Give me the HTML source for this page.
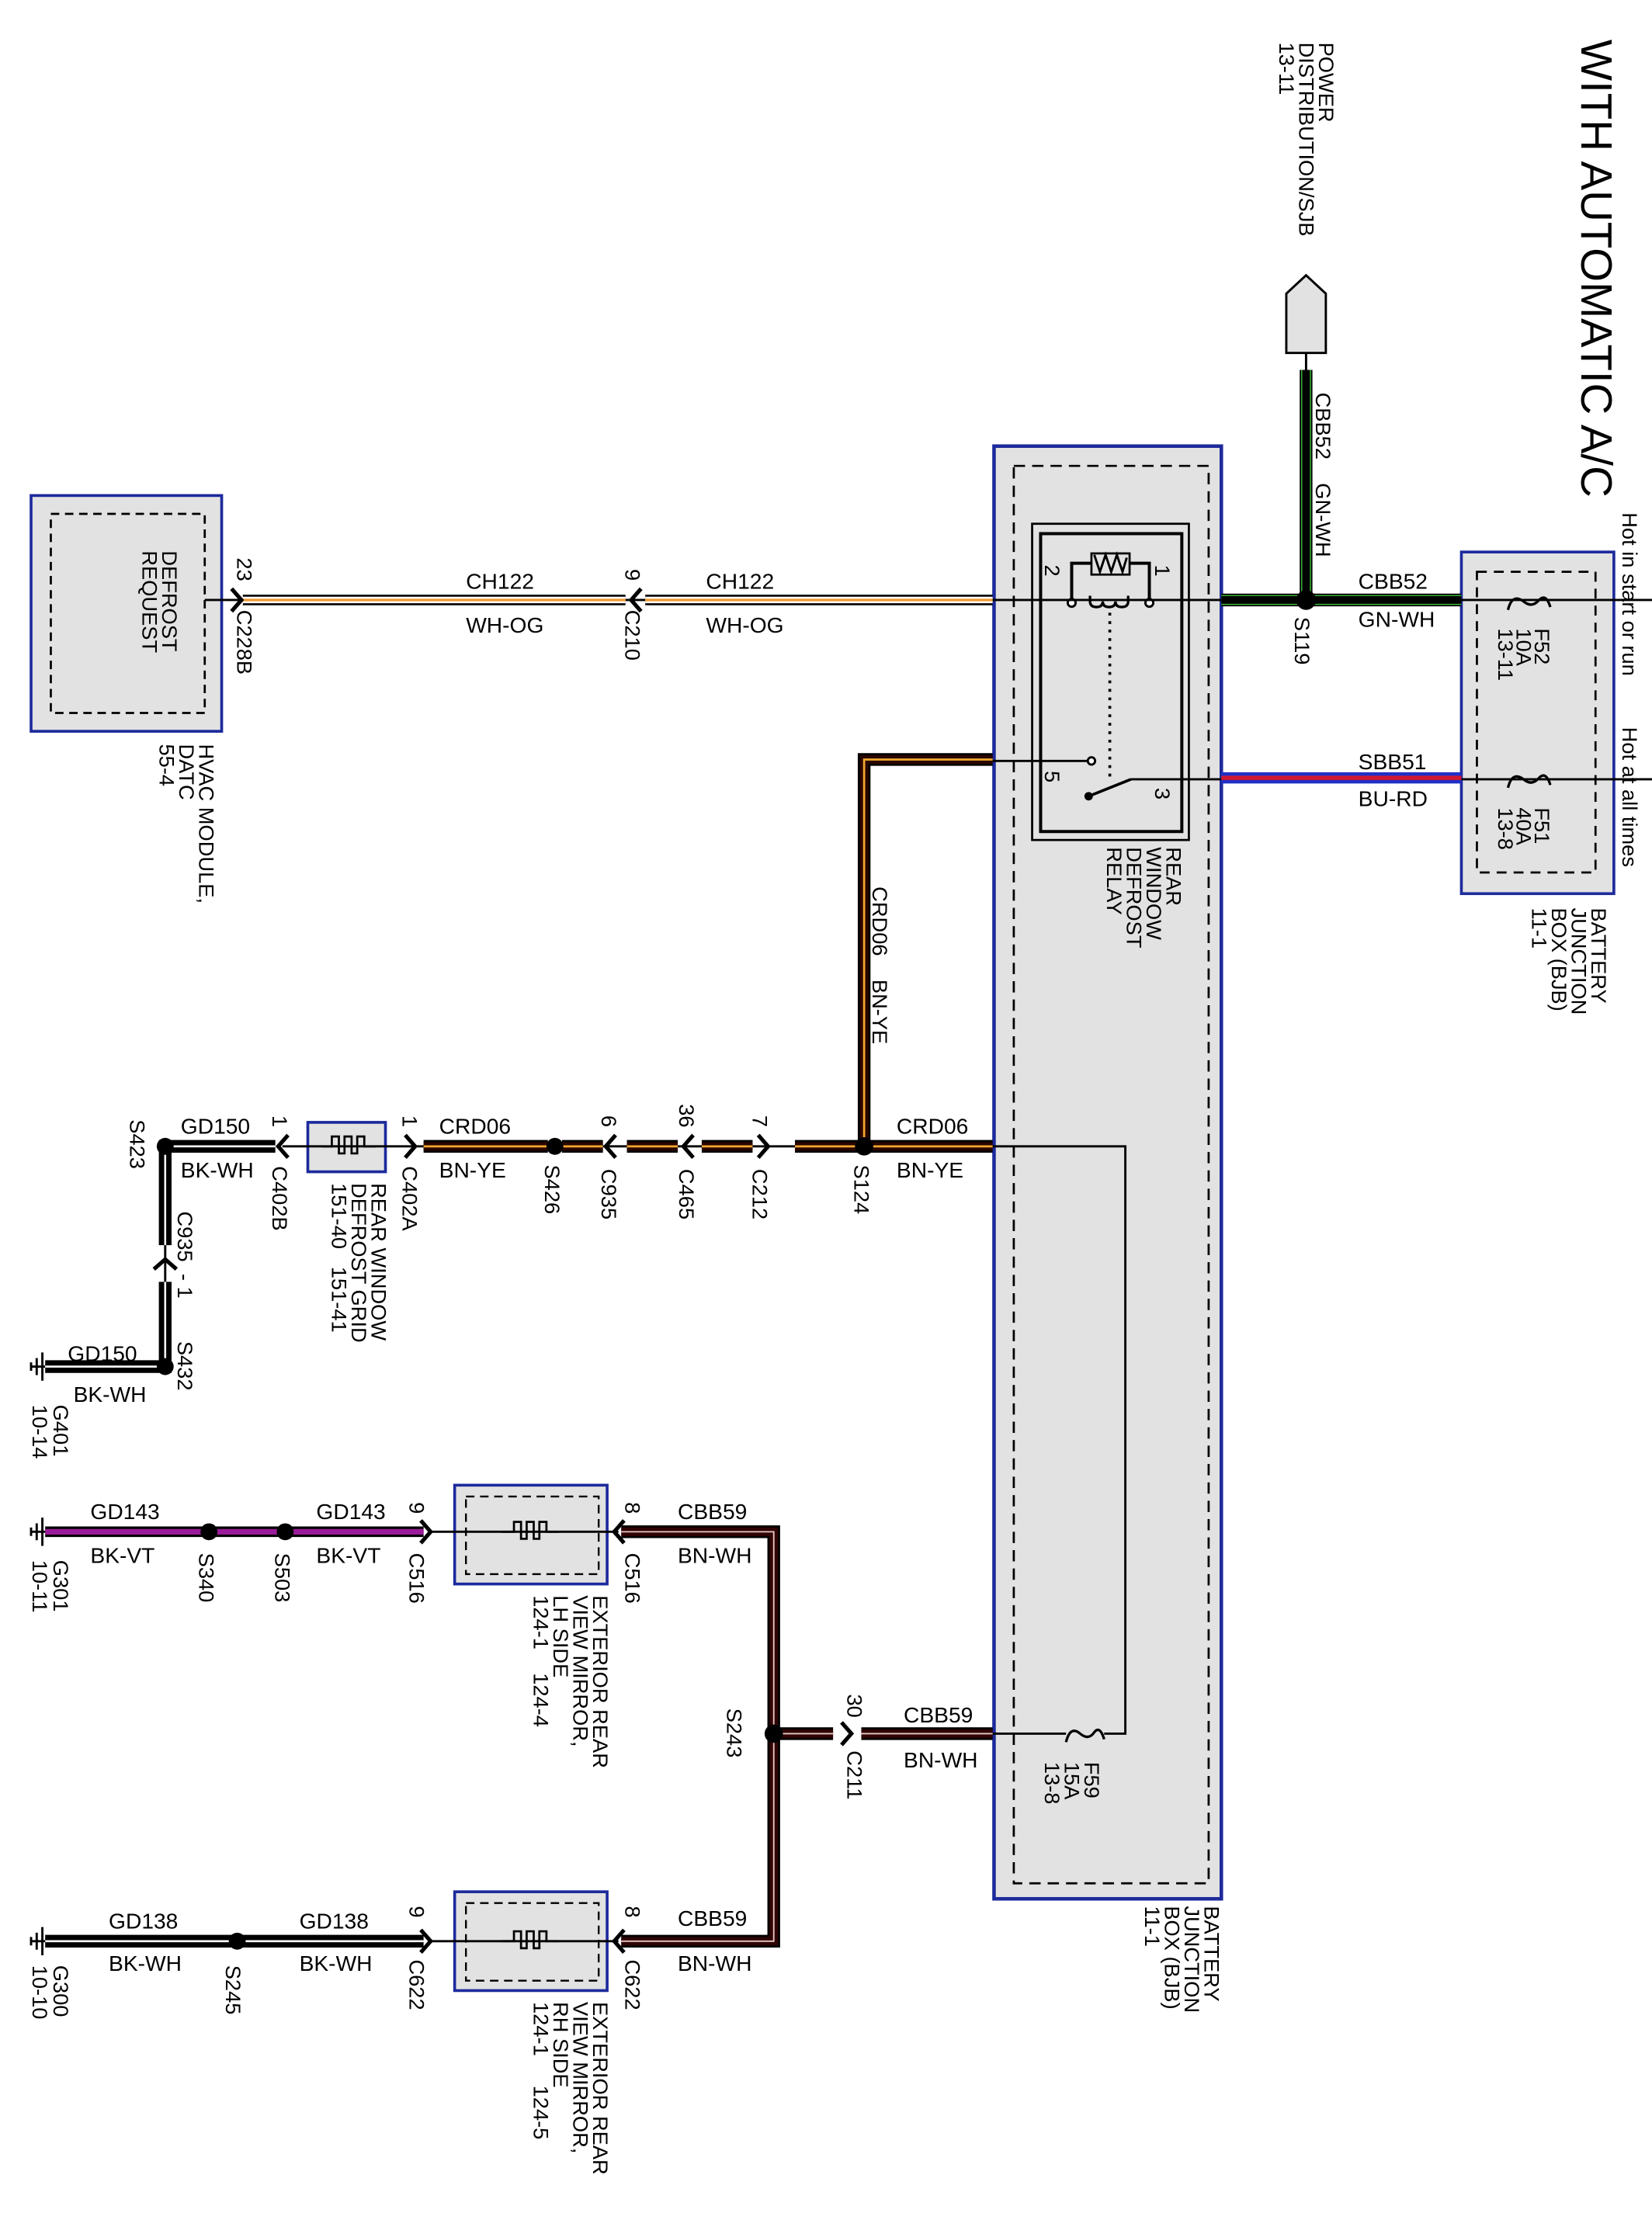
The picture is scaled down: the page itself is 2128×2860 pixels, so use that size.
<!DOCTYPE html>
<html><head><meta charset="utf-8"><style>
html,body{margin:0;padding:0;background:#fff}
svg{display:block}
text{font-family:"Liberation Sans",Arial,sans-serif;fill:#000}
.r{font-size:15px}
.h{font-size:15.5px}
.t{stroke:#000;stroke-width:1.6;fill:none}
.k8{stroke:#000;stroke-width:9;fill:none}
.k7{stroke:#000;stroke-width:7.5;fill:none}
.ch{stroke:#000;stroke-width:2.8;fill:none}
</style></head><body>
<svg width="2128" height="2860" viewBox="0 0 1170 1572.5" preserveAspectRatio="none" xmlns="http://www.w3.org/2000/svg">
<defs>
<path id="wo" d="M172 425 H443 M457 425 H703"/>
<path id="gw" d="M925 262 V425 M865 425 H1035"/>
<path id="br" d="M865 551 H1035"/>
<path id="by" d="M703 538 H612 V812 M703 812 H563 M533 812 H497 M480 812 H444 M427 812 H398 M388 812 H300"/>
<path id="bw" d="M195 812 H117 V882 M117 908 V968 H32 M300 1375 H32"/>
<path id="bv" d="M300 1085 H32"/>
<path id="bn" d="M440 1085 H548 V1375 H440 M548 1228 H590 M610 1228 H703"/>
</defs>

<rect x="22" y="351" width="135" height="167" fill="#e2e2e2" stroke="#1c2a9c" stroke-width="2"/>
<rect x="36" y="364" width="109" height="141" fill="none" stroke="#000" stroke-width="1.5" stroke-dasharray="6,4"/>
<rect x="704" y="316" width="161" height="1029" fill="#e2e2e2" stroke="#1c2a9c" stroke-width="2.5"/>
<rect x="718" y="330" width="138" height="1004" fill="none" stroke="#000" stroke-width="1.5" stroke-dasharray="8,5"/>
<rect x="1035" y="391" width="108" height="242" fill="#e2e2e2" stroke="#1c2a9c" stroke-width="2"/>
<rect x="1046" y="405" width="84" height="213" fill="none" stroke="#000" stroke-width="1.5" stroke-dasharray="7,5"/>
<rect x="218" y="795" width="55" height="35" fill="#e2e2e2" stroke="#1c2a9c" stroke-width="2"/>
<rect x="322" y="1052" width="108" height="70" fill="#e2e2e2" stroke="#1c2a9c" stroke-width="2"/>
<rect x="330" y="1060" width="94" height="55" fill="none" stroke="#000" stroke-width="1.3" stroke-dasharray="6,4"/>
<rect x="322" y="1340" width="108" height="70" fill="#e2e2e2" stroke="#1c2a9c" stroke-width="2"/>
<rect x="330" y="1348" width="94" height="55" fill="none" stroke="#000" stroke-width="1.3" stroke-dasharray="6,4"/>

<rect x="731" y="371" width="111" height="224" fill="none" stroke="#000" stroke-width="1.5"/>
<rect x="737" y="378" width="100" height="211" fill="none" stroke="#000" stroke-width="2.2"/>
<path d="M759 427 V399 H773 M800 399 H814 V427" class="t" style="stroke-width:2.2"/>
<rect x="773" y="392" width="27" height="15" fill="none" stroke="#000" stroke-width="1.5"/>
<path d="M775 393 L779 405 L783 393 L787 405 L791 393 L795 405 L798 395" class="t"/>
<path d="M772 422 v4 q0 4 4.5 4 q4.5 0 4.5 -4 q0 4 4.5 4 q4.5 0 4.5 -4 q0 4 4.5 4 q4.5 0 4.5 -4 v-4" class="t" style="stroke-width:1.8"/>
<circle cx="759" cy="427" r="2.8" fill="#fff" stroke="#000" stroke-width="1.6"/>
<circle cx="814" cy="427" r="2.8" fill="#fff" stroke="#000" stroke-width="1.6"/>
<path d="M786 434 V551" stroke="#000" stroke-width="2" stroke-dasharray="2,4"/>
<path d="M801 552 L771 564" class="t" style="stroke-width:2"/>
<circle cx="771" cy="564" r="3" fill="#000"/>
<circle cx="773" cy="539" r="2.6" fill="#fff" stroke="#000" stroke-width="1.6"/>

<path class="t" d="M145 425 H1170 M703 539 H770 M801 552 H1170 M200 812 H612 M703 812 H797 V1228 H782 M755 1228 H703 M117 812 V968 M305 1085 H438 M305 1375 H438 M22 968 H32 M925 250 V262"/>
<path class="t" style="stroke-width:1.8" d="M1068 432 q3 -12 11 -6 q6 5 11 -1 q5 -5 8 5 M1068 558 q3 -12 11 -6 q6 5 11 -1 q5 -5 8 5 M755 1234 q3 -12 10 -6 q6 5 10 -1 q4 -5 7 5"/>
<path class="t" style="stroke-width:1.5" d="M228 812 h7 v-7 h5 v12 h4 v-12 h5 v12 h4 v-12 h5 v7 h8 M355 1085 h9 v-7 h5 v12 h4 v-12 h5 v12 h4 v-12 h5 v7 h9 M355 1375 h9 v-7 h5 v12 h4 v-12 h5 v12 h4 v-12 h5 v7 h9"/>

<use href="#wo" class="k7"/><use href="#wo" style="stroke:#fff;stroke-width:4.6;fill:none"/><use href="#wo" style="stroke:#f09a30;stroke-width:1.8;fill:none"/>
<use href="#gw" class="k8"/><use href="#gw" style="stroke:#3cb83c;stroke-width:7;fill:none"/><use href="#gw" style="stroke:#000;stroke-width:5.4;fill:none"/>
<use href="#br" style="stroke:#2030c8;stroke-width:8;fill:none"/><use href="#br" style="stroke:#d01830;stroke-width:3;fill:none"/>
<use href="#by" class="k8"/><use href="#by" style="stroke:#2a0600;stroke-width:6;fill:none"/><use href="#by" style="stroke:#f2a830;stroke-width:1.5;fill:none"/>
<use href="#bw" class="k8"/><use href="#bw" style="stroke:#fff;stroke-width:1.4;fill:none"/>
<use href="#bv" class="k7"/><use href="#bv" style="stroke:#9a1c9a;stroke-width:4;fill:none"/>
<use href="#bn" class="k8"/><use href="#bn" style="stroke:#300404;stroke-width:6;fill:none"/><use href="#bn" style="stroke:#e8c8c8;stroke-width:1;fill:none"/>

<path d="M911 250 V208 L925 195 L939 208 V250 Z" fill="#e2e2e2" stroke="#000" stroke-width="1.6"/>

<path class="ch" d="M164 417 L171 425 L164 433 M454 417 L447 425 L454 433 M537 804 L544 812 L537 820 M491 804 L484 812 L491 820 M436 804 L429 812 L436 820 M287 804 L294 812 L287 820 M204 804 L197 812 L204 820 M109 899 L117 892 L125 899 M298 1077 L305 1085 L298 1093 M442 1077 L435 1085 L442 1093 M298 1367 L305 1375 L298 1383 M442 1367 L435 1375 L442 1383 M596 1220 L603 1228 L596 1236"/>

<g fill="#000">
<circle cx="925" cy="425" r="7"/><circle cx="612" cy="812" r="6.5"/><circle cx="393" cy="812" r="6"/>
<circle cx="117" cy="812" r="6"/><circle cx="117" cy="968" r="6"/><circle cx="548" cy="1228" r="6.5"/>
<circle cx="148" cy="1085" r="6"/><circle cx="202" cy="1085" r="6"/><circle cx="168" cy="1375" r="6"/>
</g>
<path class="t" d="M30 958 V978 M26 962 V974 M22 965 V971 M30 1075 V1095 M26 1079 V1091 M22 1082 V1088 M30 1365 V1385 M26 1369 V1381 M22 1372 V1378"/>
<path class="t" d="M22 1085 H32 M22 1375 H32"/>

<g class="r">
<text transform="translate(1120,28) rotate(90)" style="font-size:31px">WITH AUTOMATIC A/C</text>
<text transform="translate(934,30) rotate(90)">POWER</text>
<text transform="translate(920,30) rotate(90)">DISTRIBUTION/SJB</text>
<text transform="translate(906,30) rotate(90)">13-11</text>
<text transform="translate(932,278) rotate(90)" xml:space="preserve">CBB52    GN-WH</text>
<text transform="translate(917,437) rotate(90)">S119</text>
<text transform="translate(1149,363) rotate(90)">Hot in start or run</text>
<text transform="translate(1149,515) rotate(90)">Hot at all times</text>
<text transform="translate(1087,445) rotate(90)">F52</text>
<text transform="translate(1074,445) rotate(90)">10A</text>
<text transform="translate(1061,445) rotate(90)">13-11</text>
<text transform="translate(1087,572) rotate(90)">F51</text>
<text transform="translate(1074,572) rotate(90)">40A</text>
<text transform="translate(1061,572) rotate(90)">13-8</text>
<text transform="translate(1127,643) rotate(90)">BATTERY</text>
<text transform="translate(1113,643) rotate(90)">JUNCTION</text>
<text transform="translate(1099,643) rotate(90)">BOX (BJB)</text>
<text transform="translate(1085,643) rotate(90)">11-1</text>
<text transform="translate(818,400) rotate(90)">1</text>
<text transform="translate(740,400) rotate(90)">2</text>
<text transform="translate(740,546) rotate(90)">5</text>
<text transform="translate(818,558) rotate(90)">3</text>
<text transform="translate(826,600) rotate(90)">REAR</text>
<text transform="translate(812,600) rotate(90)">WINDOW</text>
<text transform="translate(798,600) rotate(90)">DEFROST</text>
<text transform="translate(784,600) rotate(90)">RELAY</text>
<text transform="translate(853,1350) rotate(90)">BATTERY</text>
<text transform="translate(839,1350) rotate(90)">JUNCTION</text>
<text transform="translate(825,1350) rotate(90)">BOX (BJB)</text>
<text transform="translate(811,1350) rotate(90)">11-1</text>
<text transform="translate(168,395) rotate(90)">23</text>
<text transform="translate(168,432) rotate(90)">C228B</text>
<text transform="translate(443,403) rotate(90)">9</text>
<text transform="translate(443,432) rotate(90)">C210</text>
<text transform="translate(115,390) rotate(90)">DEFROST</text>
<text transform="translate(101,390) rotate(90)">REQUEST</text>
<text transform="translate(141,527) rotate(90)">HVAC MODULE,</text>
<text transform="translate(127,527) rotate(90)">DATC</text>
<text transform="translate(113,527) rotate(90)">55-4</text>
<text transform="translate(618,628) rotate(90)" xml:space="preserve">CRD06    BN-YE</text>
<text transform="translate(605,825) rotate(90)">S124</text>
<text transform="translate(533,790) rotate(90)">7</text>
<text transform="translate(533,828) rotate(90)">C212</text>
<text transform="translate(481,782) rotate(90)">36</text>
<text transform="translate(481,828) rotate(90)">C465</text>
<text transform="translate(426,790) rotate(90)">6</text>
<text transform="translate(426,828) rotate(90)">C935</text>
<text transform="translate(386,825) rotate(90)">S426</text>
<text transform="translate(285,790) rotate(90)">1</text>
<text transform="translate(285,826) rotate(90)">C402A</text>
<text transform="translate(193,790) rotate(90)">1</text>
<text transform="translate(193,826) rotate(90)">C402B</text>
<text transform="translate(263,838) rotate(90)">REAR WINDOW</text>
<text transform="translate(249,838) rotate(90)">DEFROST GRID</text>
<text transform="translate(235,838) rotate(90)" xml:space="preserve">151-40   151-41</text>
<text transform="translate(92,793) rotate(90)">S423</text>
<text transform="translate(126,858) rotate(90)" xml:space="preserve">C935  - 1</text>
<text transform="translate(126,950) rotate(90)">S432</text>
<text transform="translate(38,995) rotate(90)">G401</text>
<text transform="translate(23,995) rotate(90)">10-14</text>
<text transform="translate(443,1064) rotate(90)">8</text>
<text transform="translate(443,1100) rotate(90)">C516</text>
<text transform="translate(290,1064) rotate(90)">9</text>
<text transform="translate(290,1100) rotate(90)">C516</text>
<text transform="translate(195,1100) rotate(90)">S503</text>
<text transform="translate(141,1100) rotate(90)">S340</text>
<text transform="translate(38,1105) rotate(90)">G301</text>
<text transform="translate(23,1105) rotate(90)">10-11</text>
<text transform="translate(420,1130) rotate(90)">EXTERIOR REAR</text>
<text transform="translate(406,1130) rotate(90)">VIEW MIRROR,</text>
<text transform="translate(392,1130) rotate(90)">LH SIDE</text>
<text transform="translate(378,1130) rotate(90)" xml:space="preserve">124-1    124-4</text>
<text transform="translate(515,1210) rotate(90)">S243</text>
<text transform="translate(600,1200) rotate(90)">30</text>
<text transform="translate(600,1240) rotate(90)">C211</text>
<text transform="translate(768,1248) rotate(90)">F59</text>
<text transform="translate(754,1248) rotate(90)">15A</text>
<text transform="translate(740,1248) rotate(90)">13-8</text>
<text transform="translate(443,1350) rotate(90)">8</text>
<text transform="translate(443,1388) rotate(90)">C622</text>
<text transform="translate(290,1350) rotate(90)">9</text>
<text transform="translate(290,1388) rotate(90)">C622</text>
<text transform="translate(160,1392) rotate(90)">S245</text>
<text transform="translate(38,1392) rotate(90)">G300</text>
<text transform="translate(23,1392) rotate(90)">10-10</text>
<text transform="translate(420,1418) rotate(90)">EXTERIOR REAR</text>
<text transform="translate(406,1418) rotate(90)">VIEW MIRROR,</text>
<text transform="translate(392,1418) rotate(90)">RH SIDE</text>
<text transform="translate(378,1418) rotate(90)" xml:space="preserve">124-1     124-5</text>
</g>

<g class="h">
<text x="330" y="417">CH122</text><text x="330" y="448">WH-OG</text>
<text x="500" y="417">CH122</text><text x="500" y="448">WH-OG</text>
<text x="962" y="417">CBB52</text><text x="962" y="444">GN-WH</text>
<text x="962" y="545">SBB51</text><text x="962" y="571">BU-RD</text>
<text x="635" y="803">CRD06</text><text x="635" y="834">BN-YE</text>
<text x="311" y="803">CRD06</text><text x="311" y="834">BN-YE</text>
<text x="128" y="803">GD150</text><text x="128" y="834">BK-WH</text>
<text x="48" y="964">GD150</text><text x="52" y="993">BK-WH</text>
<text x="480" y="1076">CBB59</text><text x="480" y="1107">BN-WH</text>
<text x="224" y="1076">GD143</text><text x="224" y="1107">BK-VT</text>
<text x="64" y="1076">GD143</text><text x="64" y="1107">BK-VT</text>
<text x="640" y="1220">CBB59</text><text x="640" y="1252">BN-WH</text>
<text x="480" y="1364">CBB59</text><text x="480" y="1396">BN-WH</text>
<text x="212" y="1366">GD138</text><text x="212" y="1396">BK-WH</text>
<text x="77" y="1366">GD138</text><text x="77" y="1396">BK-WH</text>
</g>
</svg>
</body></html>
